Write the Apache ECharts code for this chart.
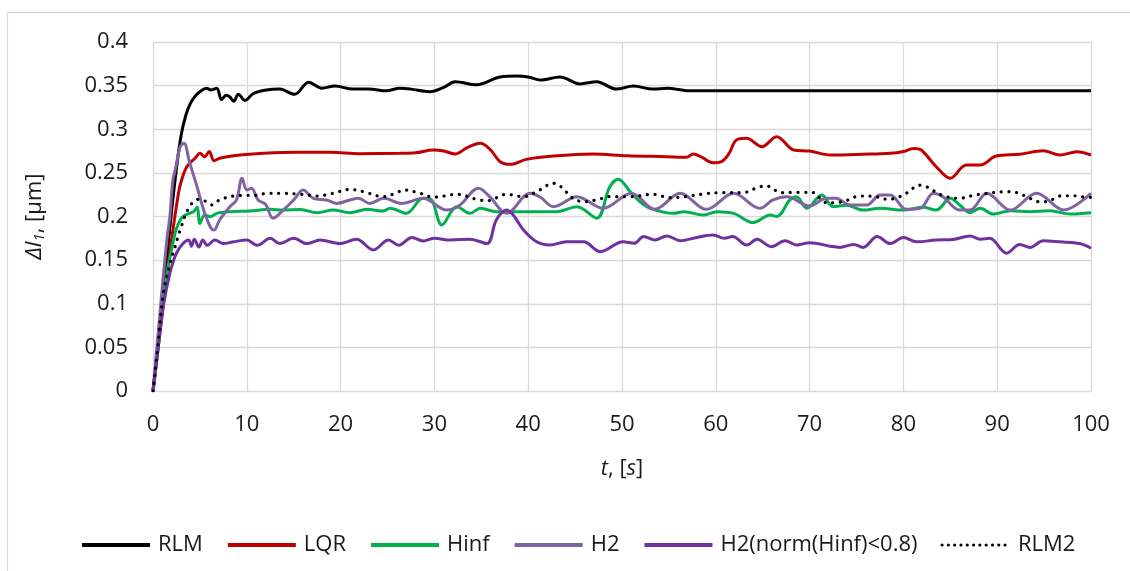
<!DOCTYPE html>
<html>
<head>
<meta charset="utf-8">
<script src="https://cdn.jsdelivr.net/npm/echarts@6/dist/echarts.min.js"></script>
<style>
  html, body { margin: 0; padding: 0; background: #fff; }
  #chart { width: 1130px; height: 571px; }
</style>
</head>
<body>
<div id="chart"></div>
<script>
// Elongation response Δl1 [μm] versus time t [s] for several controllers.
// Each series is a list of [t, value] samples.
const seriesNames = ['RLM', 'LQR', 'Hinf', 'H2', 'H2(norm(Hinf)<0.8)', 'RLM2'];

const rlm = [[0,0],[0.5,0.05],[1,0.1],[1.5,0.155],[2,0.208],[2.5,0.255],[3,0.293],[3.5,0.316],[4,0.33],[4.5,0.338],[5,0.343],
  [5.7,0.347],[6.2,0.345],[6.8,0.347],[7.3,0.334],[7.8,0.339],[8.2,0.337],[8.6,0.332],[9.1,0.34],[9.8,0.333],[10.7,0.341],
  [12.1,0.345],[13.5,0.346],[15.1,0.34],[16.6,0.354],[18,0.347],[19.4,0.3495],[21.3,0.346],[23,0.346],[24.9,0.344],
  [26.3,0.347],[27.5,0.346],[29.5,0.343],[31,0.348],[32.2,0.3545],[34.5,0.351],[37,0.36],[38.8,0.361],[40,0.36],
  [41.3,0.3565],[43.4,0.36],[45.5,0.352],[47.3,0.3545],[49.4,0.346],[51.2,0.3495],[53.3,0.346],[54.8,0.347],[57.2,0.344],
  [60,0.344],[70,0.344],[80,0.344],[90,0.344],[100,0.344]];

const lqr = [[0,0],[0.5,0.045],[1,0.09],[1.5,0.135],[2,0.175],[2.5,0.212],[2.9,0.236],[3.6,0.257],[4.5,0.267],[5,0.2725],
  [5.5,0.2685],[6,0.2745],[6.5,0.264],[7.1,0.2667],[7.9,0.2686],[9.3,0.2705],[11.8,0.2724],[15.3,0.2735],[18.9,0.2735],
  [22,0.272],[26.3,0.2724],[28,0.273],[29.9,0.2762],[31,0.275],[32.2,0.2716],[33.5,0.279],[34.9,0.284],[36,0.2762],
  [37,0.2628],[38.1,0.2598],[39.8,0.2655],[42.7,0.2693],[46.9,0.2716],[50.5,0.2697],[54.8,0.2686],[56.9,0.268],
  [57.6,0.2716],[58.5,0.268],[59.7,0.2617],[60.6,0.263],[61.4,0.272],[62.2,0.2877],[63.3,0.2896],[64.9,0.28],
  [66.5,0.2915],[68.3,0.2762],[70,0.275],[72.2,0.2705],[75.7,0.2713],[78.6,0.2724],[80,0.2745],[81.1,0.278],
  [81.9,0.2762],[83.5,0.257],[85,0.2438],[86.7,0.259],[88.2,0.259],[89.9,0.2693],[92.4,0.2713],[94.9,0.2754],
  [96.7,0.2705],[98.5,0.2743],[100,0.2705]];

const hinf = [[0,0],[0.5,0.045],[1,0.095],[1.5,0.135],[2,0.163],[2.5,0.186],[3.2,0.2],[4.3,0.2055],[4.7,0.2105],[5,0.192],
  [5.5,0.2017],[6.1,0.1998],[6.8,0.2036],[8.2,0.2055],[10.3,0.2063],[12.5,0.2082],[13.9,0.2074],[15.7,0.208],[17.5,0.2044],
  [19.2,0.2074],[21,0.2044],[22.8,0.2082],[24.5,0.2063],[25.3,0.2094],[27,0.2036],[28.8,0.2208],[29.6,0.22],[30.8,0.1903],
  [32.4,0.2112],[33.8,0.2036],[34.9,0.2094],[36.6,0.2055],[39.5,0.2055],[43,0.2055],[45.2,0.2112],[47.3,0.198],
  [48.7,0.234],[49.6,0.2426],[50.9,0.228],[51.9,0.217],[53,0.2094],[55.5,0.2036],[56.6,0.2055],[58.7,0.2017],
  [60.1,0.2055],[61.9,0.2036],[64,0.193],[65.8,0.2017],[66.5,0.2],[67.9,0.219],[68.6,0.2227],[69.7,0.2094],
  [71.3,0.2246],[72.5,0.2112],[73.9,0.213],[75.7,0.2074],[77.5,0.2094],[80,0.2074],[82.1,0.2105],[83.5,0.2074],
  [85,0.2208],[86,0.2132],[87.1,0.2044],[88.2,0.2094],[89.6,0.2028],[91.4,0.2066],[93.5,0.2055],[95.6,0.2066],
  [97.8,0.2028],[100,0.2044]];

const h2 = [[0,0],[0.5,0.06],[1,0.12],[1.5,0.175],[1.8,0.2],[2.1,0.24],[2.4,0.255],[2.9,0.28],[3.3,0.284],[3.9,0.262],
  [4.7,0.234],[5.4,0.2074],[6.1,0.1883],[6.5,0.1845],[7.1,0.196],[8.2,0.2112],[8.9,0.219],[9.5,0.2438],[10,0.2304],
  [10.5,0.2323],[11.2,0.219],[12,0.214],[12.8,0.198],[13.9,0.2074],[15,0.219],[16,0.2304],[17.1,0.2208],[18.5,0.219],
  [19.6,0.215],[21,0.219],[21.9,0.2208],[23.1,0.215],[24.6,0.2208],[26.5,0.215],[28.8,0.2208],[31.3,0.2074],[32.7,0.213],
  [34.7,0.2323],[35.9,0.2227],[37.7,0.2036],[40.2,0.2266],[41.3,0.222],[42.7,0.2112],[45.2,0.2227],[48,0.2094],
  [51,0.2266],[53.5,0.2082],[56.2,0.2266],[59,0.2082],[61.9,0.2266],[64.7,0.2094],[66.1,0.219],[67.6,0.2227],[70,0.212],
  [71.8,0.2208],[72.8,0.2208],[74.3,0.2132],[76.1,0.2132],[77.5,0.2246],[78.6,0.2246],[80.3,0.2082],[81.8,0.2094],
  [83.2,0.2266],[84.2,0.2227],[86,0.2074],[87.1,0.2074],[88.9,0.2266],[91.4,0.2074],[94.2,0.2266],[97.1,0.2074],
  [100,0.2266]];

const h2norm = [[0,0],[0.5,0.045],[1.1,0.097],[1.8,0.135],[2.5,0.158],[3.2,0.169],[3.8,0.173],[4.1,0.166],[4.4,0.174],
  [4.9,0.165],[5.3,0.173],[5.8,0.167],[6.6,0.173],[7.5,0.169],[8.6,0.171],[10,0.173],[11.1,0.167],[12.5,0.175],
  [13.5,0.169],[15,0.175],[16.4,0.169],[17.8,0.173],[19.9,0.169],[21.7,0.174],[23.5,0.1616],[25.1,0.173],[26.2,0.167],
  [27.6,0.176],[28.8,0.172],[30,0.175],[31.7,0.173],[33.8,0.174],[35.6,0.169],[36.6,0.196],[37.7,0.2074],[38.4,0.2017],
  [39.5,0.1845],[40.9,0.171],[42.3,0.1673],[44.1,0.171],[45.9,0.171],[47.7,0.1597],[50.1,0.171],[51.3,0.1693],
  [52.3,0.177],[53.5,0.1731],[54.8,0.1777],[56.2,0.1723],[58,0.176],[59.7,0.1788],[60.9,0.175],[61.8,0.177],
  [63.3,0.1673],[64.4,0.174],[65.9,0.1654],[67.4,0.1723],[68.6,0.1673],[70,0.17],[72.2,0.166],[73.2,0.1646],
  [74.7,0.168],[75.7,0.1646],[77.2,0.177],[78.6,0.169],[80,0.176],[81.4,0.171],[83.5,0.173],[85.3,0.1737],
  [87.1,0.1777],[88.2,0.174],[89.2,0.175],[91,0.158],[92.4,0.168],[93.5,0.1646],[94.9,0.1723],[96.7,0.171],
  [98.8,0.169],[100,0.1636]];

const rlm2 = [[0,0],[0.5,0.05],[1.1,0.112],[1.8,0.146],[2.3,0.1635],[2.9,0.1845],[3.8,0.2094],[4.8,0.2197],[5.7,0.217],
  [6.3,0.2132],[7.1,0.219],[8.6,0.2235],[10,0.2243],[11.1,0.2243],[12.1,0.2266],[13.9,0.2266],[15.7,0.2255],
  [17.5,0.2235],[19.2,0.2266],[21,0.2311],[22.4,0.2285],[24.6,0.2227],[26,0.2273],[26.7,0.2304],[28.5,0.2266],
  [29.9,0.222],[32.4,0.2254],[34.5,0.2197],[35.6,0.218],[37.7,0.2254],[39.5,0.2227],[40.9,0.2285],[42.7,0.238],
  [43.7,0.2323],[44.6,0.222],[45.9,0.217],[47.3,0.219],[48.7,0.2227],[50.9,0.2227],[53.3,0.2254],[55.1,0.2216],
  [56.9,0.223],[58.7,0.2258],[60.4,0.2273],[62.9,0.2273],[64.5,0.2335],[65.4,0.235],[67,0.2273],[68.6,0.2277],
  [70.4,0.2273],[71.1,0.221],[72,0.215],[72.7,0.216],[73.6,0.217],[75.4,0.2235],[77.1,0.2227],[77.8,0.22],[78.7,0.22],
  [79.6,0.2227],[80.3,0.2266],[81.8,0.236],[82.6,0.2335],[83.4,0.2285],[84.3,0.2235],[85.9,0.2208],[87.6,0.2246],
  [88.5,0.2258],[91,0.2285],[92.1,0.2273],[93.5,0.2208],[94.4,0.217],[95.2,0.217],[96.9,0.2238],[98.4,0.2238],
  [99.5,0.222],[100,0.222]];

const seriesData = [rlm, lqr, hinf, h2, h2norm, rlm2];
const seriesColors = ['#000000', '#C00000', '#00B050', '#8064A2', '#7030A0', '#000000'];

const FONT = '"Open Sans", Lato, sans-serif';
const TEXT = '#1a1a1a';
const GRID = '#d9d9d9';

const chart = echarts.init(document.getElementById('chart'), null, { renderer: 'canvas' });

const series = seriesNames.map((name, i) => {
  const dotted = name === 'RLM2';
  return {
    name,
    type: 'line',
    data: seriesData[i],
    smooth: 0.35,
    symbol: 'none',
    showSymbol: false,
    z: 2 + i,
    lineStyle: dotted
      ? { color: seriesColors[i], width: 3.2, type: [0.1, 7.6], cap: 'round' }
      : { color: seriesColors[i], width: 3 },
    itemStyle: { color: seriesColors[i] }
  };
});

// Legend entries: solid strokes, and a dense round-dot stroke for RLM2
const legendData = seriesNames.map(name => name === 'RLM2'
  ? { name, lineStyle: { width: 3, type: [0.1, 6.2], cap: 'round' } }
  : { name, lineStyle: { width: 4 } });

chart.setOption({
  animation: false,
  backgroundColor: '#ffffff',
  graphic: [{
    type: 'rect',
    shape: { x: 7.5, y: 12.5, width: 1300, height: 800 },
    style: { fill: 'none', stroke: GRID, lineWidth: 1.3 },
    silent: true,
    z: -1
  }],
  grid: { left: 153, right: 39, top: 42, bottom: 180, containLabel: false },
  legend: {
    data: legendData,
    top: 529,
    left: 75,
    itemWidth: 68,
    itemHeight: 14,
    itemGap: 23,
    itemStyle: { opacity: 0 },
    textStyle: { fontFamily: FONT, fontSize: 22, color: TEXT, padding: [0, 0, 0, 3] }
  },
  xAxis: {
    type: 'value',
    min: 0,
    max: 100,
    interval: 10,
    name: '{it|t}{rm|, [}{it|s}{rm|]}',
    nameLocation: 'middle',
    nameGap: 67,
    nameTextStyle: {
      rich: {
        it: { fontFamily: FONT, fontSize: 22, fontStyle: 'italic', color: TEXT },
        rm: { fontFamily: FONT, fontSize: 22, color: TEXT }
      }
    },
    axisLine: { show: false },
    axisTick: { show: false },
    axisLabel: { fontFamily: FONT, fontSize: 22, color: TEXT, margin: 23 },
    splitLine: { show: true, lineStyle: { color: GRID, width: 1.3 } }
  },
  yAxis: {
    type: 'value',
    min: 0,
    max: 0.4,
    interval: 0.05,
    name: '{it|Δl}{sub|1}{rm|, [μm]}',
    nameLocation: 'middle',
    nameGap: 106,
    nameTextStyle: {
      rich: {
        it: { fontFamily: FONT, fontSize: 22, fontStyle: 'italic', color: TEXT },
        sub: { fontFamily: FONT, fontSize: 15, fontStyle: 'italic', color: TEXT, padding: [10, 0, 0, 0] },
        rm: { fontFamily: FONT, fontSize: 22, color: TEXT }
      }
    },
    axisLine: { show: false },
    axisTick: { show: false },
    axisLabel: {
      fontFamily: FONT, fontSize: 22, color: TEXT, margin: 25,
      formatter: v => String(+v.toFixed(2))
    },
    splitLine: { show: true, lineStyle: { color: GRID, width: 1.3 } }
  },
  series
});
</script>
</body>
</html>
